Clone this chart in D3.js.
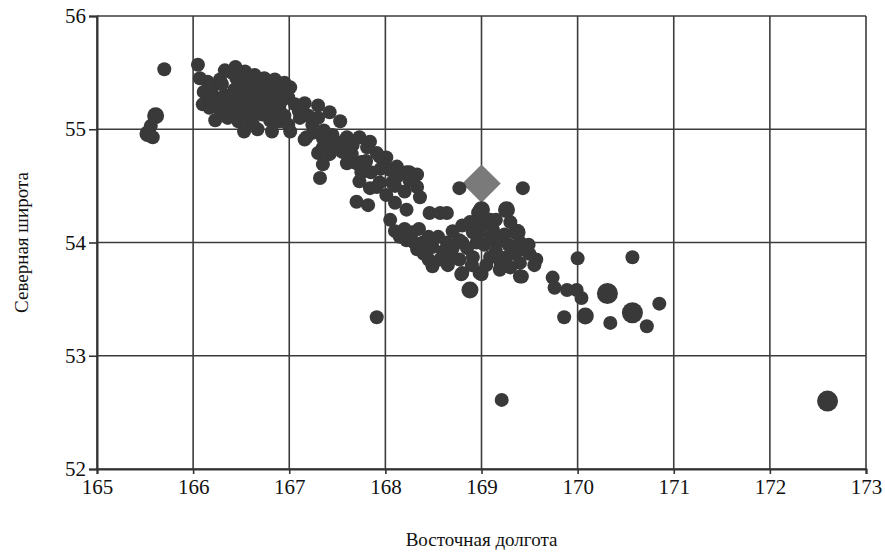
<!DOCTYPE html>
<html>
<head>
<meta charset="utf-8">
<script src="https://cdn.jsdelivr.net/npm/d3@7"></script>
<style>
  body { margin: 0; background: #fff; }
  svg { display: block; }
  text { font-family: "Liberation Serif", "Tinos", "DejaVu Serif", "Times New Roman", serif; }
</style>
</head>
<body>
<script>
// Scatter of stations: longitude E vs latitude N, with a reference point (diamond)

const xTicks = [165, 166, 167, 168, 169, 170, 171, 172, 173];
const yTicks = [52, 53, 54, 55, 56];
const xTitle = "Восточная долгота";
const yTitle = "Северная широта";

// [longitude, latitude, size class]
const stations = [
  [165.70, 55.53, 1], [165.61, 55.12, 2], [165.56, 55.03, 1], [165.53, 54.96, 2], [165.58, 54.93, 1],
  [166.05, 55.57, 1], [166.07, 55.45, 1], [166.11, 55.33, 1], [166.15, 55.26, 1], [166.20, 55.37, 1],
  [166.28, 55.44, 1], [166.33, 55.52, 1], [166.44, 55.55, 1], [166.54, 55.51, 1], [166.64, 55.48, 1],
  [166.74, 55.45, 1], [166.85, 55.44, 1], [166.95, 55.41, 1], [167.01, 55.37, 1], [166.99, 55.28, 1],
  [166.23, 55.28, 1], [166.33, 55.30, 1], [166.43, 55.35, 1], [166.54, 55.37, 1], [166.64, 55.35, 1],
  [166.75, 55.33, 1], [166.85, 55.30, 1], [166.93, 55.26, 1], [166.17, 55.19, 1], [166.28, 55.17, 1],
  [166.38, 55.22, 1], [166.49, 55.24, 1], [166.59, 55.22, 1], [166.69, 55.22, 1], [166.80, 55.19, 1],
  [166.90, 55.17, 1], [166.23, 55.08, 1], [166.36, 55.10, 1], [166.47, 55.07, 1], [166.53, 54.98, 1],
  [166.59, 55.08, 1], [166.72, 55.13, 1], [166.80, 55.08, 1], [166.90, 55.07, 1], [166.99, 55.04, 1],
  [166.10, 55.22, 1], [166.67, 55.00, 1], [166.82, 54.98, 1], [167.01, 54.98, 1],
  [166.30, 55.40, 1], [166.45, 55.45, 1], [166.60, 55.42, 1], [166.70, 55.40, 1], [166.80, 55.36, 1],
  [166.90, 55.36, 1], [166.25, 55.22, 1], [166.40, 55.28, 1], [166.50, 55.30, 1], [166.60, 55.28, 1],
  [166.70, 55.28, 1], [166.80, 55.25, 1], [166.90, 55.22, 1], [166.35, 55.15, 1], [166.45, 55.16, 1],
  [166.55, 55.15, 1], [166.65, 55.15, 1], [166.75, 55.15, 1], [166.85, 55.12, 1], [166.95, 55.12, 1],
  [166.50, 55.45, 1], [166.40, 55.50, 1], [166.18, 55.30, 1], [166.15, 55.42, 1], [166.62, 55.05, 1],
  [167.06, 55.22, 1], [167.16, 55.23, 1], [167.30, 55.21, 1], [167.42, 55.15, 1], [167.11, 55.10, 1],
  [167.24, 55.04, 1], [167.36, 54.99, 1], [167.16, 54.91, 1], [167.53, 55.07, 1], [167.18, 54.93, 1],
  [167.10, 55.16, 1], [167.20, 55.12, 1], [167.30, 55.10, 1], [167.25, 54.97, 1],
  [167.35, 54.92, 1], [167.45, 54.86, 1], [167.60, 54.93, 1], [167.73, 54.93, 1], [167.84, 54.89, 1],
  [167.91, 54.79, 1], [168.01, 54.75, 1], [168.12, 54.67, 1], [168.22, 54.62, 1], [168.33, 54.60, 1],
  [167.35, 54.84, 1], [167.30, 54.79, 1], [167.35, 54.69, 1], [167.32, 54.57, 1], [167.75, 54.71, 1],
  [167.73, 54.54, 1], [167.84, 54.48, 1], [167.94, 54.53, 1], [168.01, 54.42, 1], [167.70, 54.36, 1],
  [167.53, 54.88, 1], [167.66, 54.86, 1], [167.81, 54.84, 1], [167.94, 54.76, 1], [168.01, 54.67, 1],
  [167.70, 54.70, 1], [167.91, 54.49, 1], [168.07, 54.53, 1], [168.10, 54.35, 1], [168.12, 54.58, 1],
  [168.25, 54.62, 1], [168.33, 54.49, 1], [168.36, 54.40, 1], [168.22, 54.29, 1], [168.05, 54.20, 1],
  [167.82, 54.33, 1], [168.05, 54.64, 1], [168.15, 54.05, 1],
  [167.45, 54.95, 1], [167.55, 54.80, 1], [167.65, 54.78, 1], [167.80, 54.72, 1], [167.85, 54.62, 1],
  [167.95, 54.65, 1], [168.10, 54.50, 1], [168.20, 54.45, 1], [168.25, 54.55, 1], [167.75, 54.62, 1],
  [167.60, 54.70, 1], [167.42, 54.78, 1],
  [168.77, 54.48, 1], [168.46, 54.26, 1], [168.57, 54.26, 1], [168.64, 54.26, 1], [168.28, 54.09, 1],
  [168.22, 54.02, 1], [168.39, 54.00, 1], [168.49, 53.96, 1], [168.33, 53.94, 1], [168.57, 53.85, 1],
  [168.49, 53.79, 1], [168.70, 53.87, 1], [168.80, 54.00, 1], [168.98, 54.26, 2], [168.98, 54.09, 1],
  [169.16, 54.00, 1], [168.10, 54.10, 1], [168.20, 54.12, 1], [168.30, 54.00, 1], [168.40, 53.90, 1],
  [168.45, 53.85, 1],
  [169.00, 54.29, 2], [169.26, 54.29, 2], [168.91, 54.09, 1], [168.77, 54.02, 1], [168.64, 54.00, 1],
  [169.12, 54.11, 1], [169.37, 54.09, 2], [169.43, 53.94, 1], [169.57, 53.85, 1], [169.40, 53.82, 1],
  [169.26, 53.87, 1], [169.09, 53.87, 1], [168.91, 53.87, 1], [168.77, 53.85, 1], [168.67, 53.87, 1],
  [168.80, 53.73, 1], [168.98, 53.73, 1], [169.19, 53.76, 1], [169.40, 53.70, 1], [168.88, 53.58, 2],
  [169.43, 54.48, 1], [169.09, 54.20, 1], [169.24, 54.07, 1], [168.88, 54.18, 1], [169.03, 53.98, 1],
  [169.28, 53.98, 1], [169.49, 53.98, 1], [168.79, 53.72, 1], [169.00, 53.72, 1], [169.42, 53.70, 1],
  [169.55, 53.80, 1],
  [168.70, 54.10, 1], [168.80, 54.15, 1], [169.00, 54.15, 1], [169.15, 54.20, 1], [169.30, 54.18, 1],
  [169.40, 54.00, 1], [169.35, 53.90, 1], [169.15, 53.92, 1], [169.05, 53.80, 1], [168.90, 53.80, 1],
  [168.60, 53.92, 1], [168.55, 54.05, 1], [169.20, 53.82, 1], [169.50, 53.90, 1], [168.95, 54.00, 1],
  [169.10, 54.05, 1], [168.85, 53.95, 1], [168.70, 53.95, 1], [169.30, 53.78, 1], [168.45, 54.05, 1],
  [168.35, 54.12, 1], [168.65, 53.80, 1],
  [169.74, 53.69, 1], [169.76, 53.60, 1], [169.89, 53.58, 1], [169.99, 53.58, 1], [170.04, 53.51, 1],
  [170.00, 53.86, 1], [170.57, 53.87, 1], [169.86, 53.34, 1], [170.08, 53.35, 2], [170.31, 53.55, 3],
  [170.34, 53.29, 1], [170.57, 53.38, 3], [170.72, 53.26, 1], [170.85, 53.46, 1],
  [167.91, 53.34, 1], [169.21, 52.61, 1], [172.60, 52.60, 3]
];

const reference = [169.0, 54.52];

const width = 885;
const height = 557;
const margin = { top: 16, right: 19, bottom: 88, left: 97 };
const plotW = width - margin.left - margin.right;
const plotH = height - margin.top - margin.bottom;

const svg = d3
  .select("body")
  .append("svg")
  .attr("width", width)
  .attr("height", height);

const g = svg.append("g").attr("transform", `translate(${margin.left},${margin.top})`);

const x = d3.scaleLinear().domain([165, 173]).range([0, plotW]);
const y = d3.scaleLinear().domain([52, 56]).range([plotH, 0]);
const r = d3.scaleOrdinal().domain([1, 2, 3]).range([7, 8.5, 10.5]);

const gridColor = "#3c3c3c";
const font = '"Liberation Serif", "Tinos", "DejaVu Serif", "Times New Roman", serif';

// grid
g.append("g")
  .selectAll("line")
  .data(xTicks)
  .join("line")
  .attr("x1", (d) => x(d))
  .attr("x2", (d) => x(d))
  .attr("y1", 0)
  .attr("y2", plotH)
  .attr("stroke", gridColor)
  .attr("stroke-width", 1.6);

g.append("g")
  .selectAll("line")
  .data(yTicks)
  .join("line")
  .attr("x1", 0)
  .attr("x2", plotW)
  .attr("y1", (d) => y(d))
  .attr("y2", (d) => y(d))
  .attr("stroke", gridColor)
  .attr("stroke-width", 1.6);

// axes
const xAxis = g
  .append("g")
  .attr("transform", `translate(0,${plotH})`)
  .call(d3.axisBottom(x).tickValues(xTicks).tickSize(5).tickPadding(5).tickFormat(d3.format("d")));

const yAxis = g
  .append("g")
  .call(d3.axisLeft(y).tickValues(yTicks).tickSize(8).tickPadding(3).tickFormat(d3.format("d")));

[xAxis, yAxis].forEach((ax) => {
  ax.attr("font-family", null);
  ax.select(".domain").attr("stroke", "#333").attr("stroke-width", 2);
  ax.selectAll(".tick line").attr("stroke", "#333").attr("stroke-width", 1.6);
  ax.selectAll("text")
    .attr("fill", "#111")
    .style("font-family", font)
    .style("font-size", "21px");
});

// reference point
g.append("path")
  .attr("d", d3.symbol(d3.symbolSquare, 740)())
  .attr("transform", `translate(${x(reference[0])},${y(reference[1])}) rotate(45)`)
  .attr("fill", "#7a7a7a");

// stations
g.append("g")
  .selectAll("circle")
  .data(stations)
  .join("circle")
  .attr("cx", (d) => x(d[0]))
  .attr("cy", (d) => y(d[1]))
  .attr("r", (d) => r(d[2]))
  .attr("fill", "#393939");

// titles
svg
  .append("text")
  .attr("x", margin.left + plotW / 2)
  .attr("y", 546)
  .attr("text-anchor", "middle")
  .style("font-family", font)
  .style("font-size", "19px")
  .attr("fill", "#111")
  .text(xTitle);

svg
  .append("text")
  .attr("transform", `translate(28,${margin.top + plotH / 2}) rotate(-90)`)
  .attr("text-anchor", "middle")
  .style("font-family", font)
  .style("font-size", "19px")
  .attr("fill", "#111")
  .text(yTitle);
</script>
</body>
</html>
